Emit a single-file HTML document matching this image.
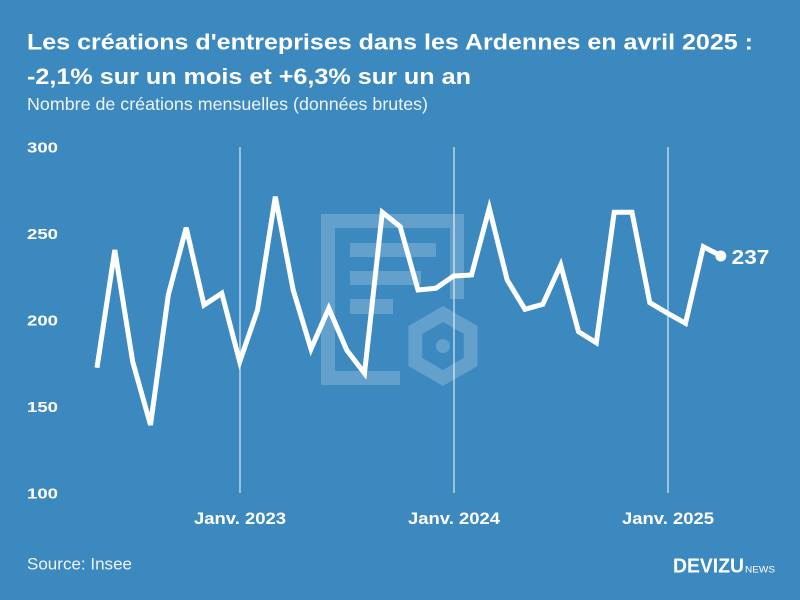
<!DOCTYPE html>
<html>
<head>
<meta charset="utf-8">
<style>
  html, body { margin: 0; padding: 0; background: #3c89c0; }
  svg { display: block; }
  text { font-family: "Liberation Sans", "DejaVu Sans", sans-serif; }
</style>
</head>
<body>
<svg width="800" height="600" viewBox="0 0 800 600" xmlns="http://www.w3.org/2000/svg">
  <rect x="0" y="0" width="800" height="600" fill="#3c89c0"/>

  <!-- Title -->
  <text x="27" y="49.5" font-size="22" font-weight="bold" fill="#ffffff" textLength="726" lengthAdjust="spacingAndGlyphs">Les créations d'entreprises dans les Ardennes en avril 2025 :</text>
  <text x="27" y="84" font-size="22" font-weight="bold" fill="#ffffff" textLength="444" lengthAdjust="spacingAndGlyphs">-2,1% sur un mois et +6,3% sur un an</text>
  <text x="27" y="110" font-size="17.5" fill="#eef4fa" textLength="401" lengthAdjust="spacingAndGlyphs">Nombre de créations mensuelles (données brutes)</text>

  <!-- Watermark -->
  <g fill="#ffffff" fill-opacity="0.2">
    <polygon points="321,214 464,214 464,299 450,299 450,228 335,228 335,371 400,371 400,385 321,385"/>
    <rect x="350" y="243" width="86" height="14"/>
    <rect x="350" y="271" width="71" height="14"/>
    <rect x="350" y="299" width="43" height="15"/>
    <path fill-rule="evenodd" d="M443,306 L477.6,326 L477.6,366 L443,386 L408.4,366 L408.4,326 Z M443,322 L422.2,334 L422.2,358 L443,370 L463.8,358 L463.8,334 Z"/>
    <circle cx="443" cy="346" r="7"/>
  </g>

  <!-- Vertical gridlines -->
  <g stroke="#ffffff" stroke-opacity="0.75" stroke-width="1.3">
    <line x1="240" y1="147" x2="240" y2="493"/>
    <line x1="454" y1="147" x2="454" y2="493"/>
    <line x1="668" y1="147" x2="668" y2="493"/>
  </g>

  <!-- Y axis labels -->
  <g font-size="15" font-weight="bold" fill="#ffffff">
    <text x="27" y="152.7" textLength="31" lengthAdjust="spacingAndGlyphs">300</text>
    <text x="27" y="239.2" textLength="31" lengthAdjust="spacingAndGlyphs">250</text>
    <text x="27" y="325.7" textLength="31" lengthAdjust="spacingAndGlyphs">200</text>
    <text x="27" y="412.2" textLength="31" lengthAdjust="spacingAndGlyphs">150</text>
    <text x="27" y="498.7" textLength="31" lengthAdjust="spacingAndGlyphs">100</text>
  </g>

  <!-- X axis labels -->
  <g font-size="16.5" font-weight="bold" fill="#ffffff" text-anchor="middle">
    <text x="240" y="524" textLength="92" lengthAdjust="spacingAndGlyphs">Janv. 2023</text>
    <text x="454" y="524" textLength="92" lengthAdjust="spacingAndGlyphs">Janv. 2024</text>
    <text x="668" y="524" textLength="92" lengthAdjust="spacingAndGlyphs">Janv. 2025</text>
  </g>

  <!-- Series -->
  <polyline fill="none" stroke="#ffffff" stroke-width="5" stroke-linejoin="miter" stroke-linecap="butt"
    points="97.0,367.7 114.8,250 132.7,361.7 150.5,425 168.3,295 186.2,227.7 204.0,305 221.8,293.3 239.7,361.7 257.5,310 275.3,196.7 293.2,290 311.0,349 328.8,308.3 346.7,350 364.5,373.3 382.3,212.3 400.2,226.7 418.0,290 435.8,288.3 453.7,276 471.5,275 489.3,208.3 507.2,280 525.0,309.3 542.8,304.3 560.7,265 578.5,331.7 596.3,342.7 614.2,212.3 632.0,212.3 649.8,302.7 667.7,313.3 685.5,323.3 703.3,246.7 721.2,256"/>
  <circle cx="720.8" cy="256" r="5.5" fill="#ffffff"/>
  <text x="731.7" y="264" font-size="20" font-weight="bold" fill="#ffffff" textLength="37.6" lengthAdjust="spacingAndGlyphs">237</text>

  <!-- Footer -->
  <text x="27" y="569.3" font-size="17" fill="#eef4fa" textLength="105" lengthAdjust="spacingAndGlyphs">Source: Insee</text>
  <text x="673" y="572.7" font-size="20" font-weight="bold" fill="#ffffff" textLength="71" lengthAdjust="spacingAndGlyphs">DEVIZU</text>
  <text x="745" y="572.7" font-size="9.2" fill="#ffffff" textLength="30" lengthAdjust="spacingAndGlyphs">NEWS</text>
</svg>
</body>
</html>
